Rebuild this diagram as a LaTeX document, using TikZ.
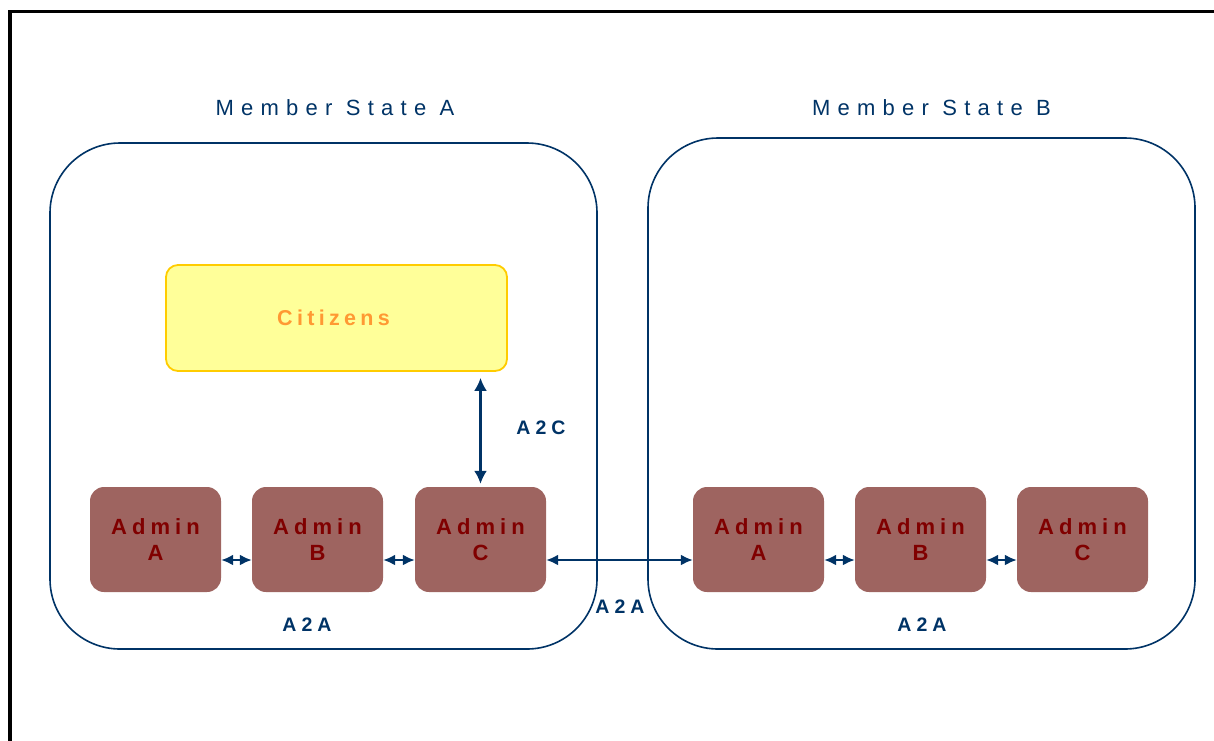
\documentclass[tikz,border=0pt]{standalone}
\usepackage{fontspec}
\setmainfont{Liberation Sans}
\usetikzlibrary{arrows.meta,calc}
\definecolor{navy}{HTML}{003366}
\definecolor{admfill}{HTML}{9E6460}
\definecolor{admtext}{HTML}{800000}
\definecolor{citfill}{HTML}{FFFF99}
\definecolor{citline}{HTML}{FFCC00}
\definecolor{cittext}{HTML}{FF9933}
\begin{document}
\begin{tikzpicture}[x=1pt,y=-1pt,
  msbox/.style={draw=navy, line width=1.6pt, rounded corners=70pt, minimum width=547pt, inner sep=0pt},
  admbox/.style={fill=admfill, rounded corners=14pt, minimum width=131pt, minimum height=105pt, inner sep=0pt,
    text=admtext, align=center, font=\fontsize{22}{26}\selectfont\bfseries\addfontfeature{LetterSpace=23}},
  citbox/.style={fill=citfill, draw=citline, line width=1.8pt, rounded corners=12pt, minimum width=341pt, minimum height=106pt,
    text=cittext, font=\fontsize{21.5}{25}\selectfont\bfseries\addfontfeature{LetterSpace=20}},
  mstitle/.style={text=navy, font=\fontsize{22}{26}\selectfont\addfontfeature{LetterSpace=33}},
  lbl/.style={text=navy, font=\fontsize{19.5}{23}\selectfont\bfseries\addfontfeature{LetterSpace=26}},
  arr/.style={draw=navy, line width=2.2pt, {Latex[length=12pt,width=11pt]}-{Latex[length=12pt,width=11pt]}}
]
\useasboundingbox (0,0) rectangle (1214,740);
% outer frame
\coordinate (fbl) at (10,760);
\coordinate (ftl) at (10,11.5);
\coordinate (ftr) at (1230,11.5);
\draw[line width=3.5pt, miter limit=10] (fbl) -- (ftl) -- (ftr);

% member state boxes
\node[msbox, minimum height=506pt] (msA) at (323.5,396) {};
\node[msbox, minimum height=511pt] (msB) at (921.5,393.5) {};
\node[mstitle] (tA) at (335,108) {Member State A};
\node[mstitle] (tB) at (931.5,108) {Member State B};

% citizens
\node[citbox] (cit) at (336.5,318) {\hspace*{-6pt}Citizens};

% admins
\node[admbox] (a1) at (155.5,539.5) {Admin\\A};
\node[admbox] (a2) at (317.5,539.5) {Admin\\B};
\node[admbox] (a3) at (480.5,539.5) {Admin\\C};
\node[admbox] (b1) at (758.5,539.5) {Admin\\A};
\node[admbox] (b2) at (920.5,539.5) {Admin\\B};
\node[admbox] (b3) at (1082.5,539.5) {Admin\\C};

% connectors
\draw[arr] ([yshift=-20.5pt]a1.east) -- ([yshift=-20.5pt]a2.west);
\draw[arr] ([yshift=-20.5pt]a2.east) -- ([yshift=-20.5pt]a3.west);
\draw[arr] ([yshift=-20.5pt]a3.east) -- ([yshift=-20.5pt]b1.west);
\draw[arr] ([yshift=-20.5pt]b1.east) -- ([yshift=-20.5pt]b2.west);
\draw[arr] ([yshift=-20.5pt]b2.east) -- ([yshift=-20.5pt]b3.west);
\draw[arr, {Latex[length=13pt,width=13pt]}-{Latex[length=13pt,width=13pt]}] ($(cit.south -| a3.north)+(0,6)$) -- ($(a3.north)+(0,-3)$);

% labels
\node[lbl] (l1) at (541,428) {A2C};
\node[lbl] (l2) at (307,625) {A2A};
\node[lbl] (l3) at (620,607) {A2A};
\node[lbl] (l4) at (922,625) {A2A};
\end{tikzpicture}
\end{document}
